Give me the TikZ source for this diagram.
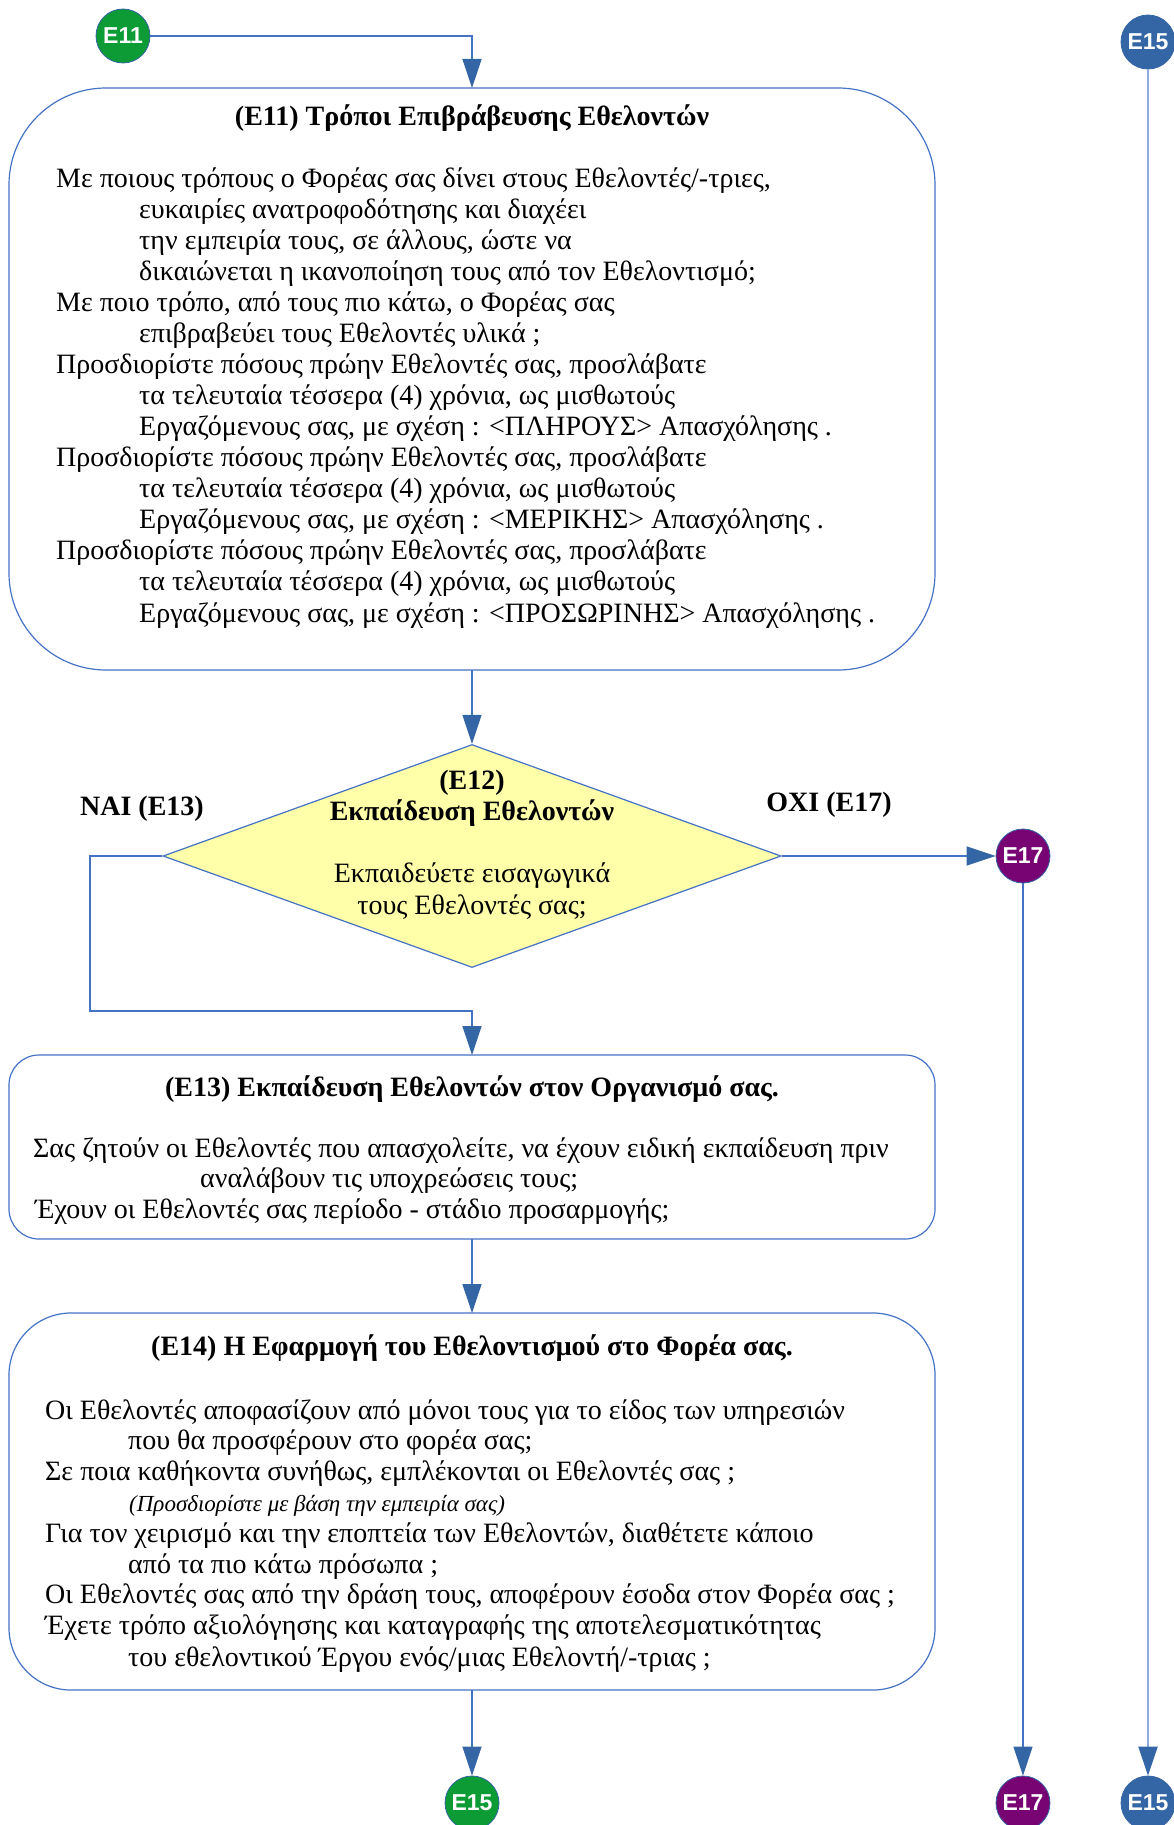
\documentclass[tikz,border=0pt]{standalone}
\usepackage{fontspec}
\setmainfont{Liberation Serif}
\newfontfamily\labelfont{Liberation Sans}
\usetikzlibrary{arrows.meta,shapes.geometric}
\definecolor{linecol}{RGB}{68,114,196}
\definecolor{tipcol}{RGB}{52,101,164}
\definecolor{palecol}{RGB}{143,170,220}
\definecolor{gcol}{RGB}{12,155,52}
\definecolor{pcol}{RGB}{120,3,115}
\definecolor{bcol}{RGB}{52,101,164}
\definecolor{dfill}{RGB}{255,255,170}
\newcommand\bodyfont{\fontsize{28}{31}\selectfont}
\newcommand\tline[4]{\node[txt] (#1) at (#2,#3+9) {#4};}
\tikzset{
  txt/.style={anchor=base west, inner sep=0pt, font=\bodyfont},
  ttl/.style={anchor=base, inner sep=0pt, font=\bodyfont\bfseries},
  conn/.style={draw=linecol, line width=1.3pt},
  arr/.style={conn, -{Triangle[length=29pt,width=19pt,color=tipcol]}},
  circ/.style={circle, minimum size=54pt, inner sep=0pt, draw=tipcol, line width=0.8pt,
    text=white, font=\labelfont\bfseries\fontsize{23}{23}\selectfont},
  boxst/.style={draw=linecol, line width=1.2pt, fill=white},
}
\begin{document}
\begin{tikzpicture}[x=1pt,y=-1pt]
\useasboundingbox (0,0) rectangle (1174,1825);
\clip (0,0) rectangle (1174,1825);
% circles
\node[circ, fill=gcol] (c11) at (123,36) {E11};
\node[circ, fill=bcol] (c15t) at (1148,42) {E15};
\node[circ, fill=pcol] (c17m) at (1023,856) {E17};
\node[circ, fill=gcol] (c15g) at (472,1803) {E15};
\node[circ, fill=pcol] (c17b) at (1023,1803) {E17};
\node[circ, fill=bcol] (c15b) at (1148,1803) {E15};
% boxes
\draw[boxst, rounded corners=97pt] (9,88) rectangle (935,670);
\coordinate (b11t) at (472,88);
\coordinate (b11b) at (472,670);
\node[diamond, draw=linecol, line width=1.2pt, fill=dfill, minimum width=618pt, minimum height=223pt, inner sep=0pt] (d12) at (472,856) {};
\draw[boxst, rounded corners=30pt] (9,1055) rectangle (935,1239);
\coordinate (b13t) at (472,1055);
\coordinate (b13b) at (472,1239);
\draw[boxst, rounded corners=62pt] (9,1313) rectangle (935,1690);
\coordinate (b14t) at (472,1313);
\coordinate (b14b) at (472,1690);
% connectors
\draw[arr] (c11.east) -| (b11t);
\draw[arr] (b11b) -- (d12.north);
\coordinate (lk1) at (90,856);
\coordinate (lk2) at (90,1011);
\coordinate (lk3) at (472,1011);
\draw[arr] (d12.west) -- (lk1) -- (lk2) -- (lk3) -- (b13t);
\draw[arr] (d12.east) -- (c17m.west);
\draw[arr] (c17m.south) -- (c17b.north);
\draw[arr] (b13b) -- (b14t);
\draw[arr] (b14b) -- (c15g.north);
\draw[draw=palecol, line width=2.2pt, -{Triangle[length=29pt,width=19pt,color=tipcol]}] (c15t.south) -- (c15b.north);
% labels
\node[ttl] (nai) at (142,815) {ΝΑΙ (E13)};
\node[ttl] (oxi) at (829,811) {ΟΧΙ (E17)};
% E11 text
\node[ttl] (t11) at (472,125) {(E11) Τρόποι Επιβράβευσης Εθελοντών};
\tline{a1}{56}{178}{Με ποιους τρόπους ο Φορέας σας δίνει στους Εθελοντές/-τριες,}
\tline{a2}{139}{209.07}{ευκαιρίες ανατροφοδότησης και διαχέει}
\tline{a3}{139}{240.14}{την εμπειρία τους, σε άλλους, ώστε να}
\tline{a4}{139}{271.21}{δικαιώνεται η ικανοποίηση τους από τον Εθελοντισμό;}
\tline{a5}{56}{302.28}{Με ποιο τρόπο, από τους πιο κάτω, ο Φορέας σας}
\tline{a6}{139}{333.35}{επιβραβεύει τους Εθελοντές υλικά ;}
\tline{a7}{56}{364.42}{Προσδιορίστε πόσους πρώην Εθελοντές σας, προσλάβατε}
\tline{a8}{139}{395.49}{τα τελευταία τέσσερα (4) χρόνια, ως μισθωτούς}
\tline{a9}{139}{426.56}{Εργαζόμενους σας, με σχέση : <ΠΛΗΡΟΥΣ> Απασχόλησης .}
\tline{a10}{56}{457.63}{Προσδιορίστε πόσους πρώην Εθελοντές σας, προσλάβατε}
\tline{a11}{139}{488.70}{τα τελευταία τέσσερα (4) χρόνια, ως μισθωτούς}
\tline{a12}{139}{519.77}{Εργαζόμενους σας, με σχέση : <ΜΕΡΙΚΗΣ> Απασχόλησης .}
\tline{a13}{56}{550.84}{Προσδιορίστε πόσους πρώην Εθελοντές σας, προσλάβατε}
\tline{a14}{139}{581.91}{τα τελευταία τέσσερα (4) χρόνια, ως μισθωτούς}
\tline{a15}{139}{613}{Εργαζόμενους σας, με σχέση : <ΠΡΟΣΩΡΙΝΗΣ> Απασχόλησης .}
% E12 text
\node[ttl] (t12a) at (472,789) {(E12)};
\node[ttl] (t12b) at (472,820) {Εκπαίδευση Εθελοντών};
\node[anchor=base, inner sep=0pt, font=\bodyfont] (t12c) at (472,882) {Εκπαιδεύετε εισαγωγικά};
\node[anchor=base, inner sep=0pt, font=\bodyfont] (t12d) at (472,914) {τους Εθελοντές σας;};
% E13 text
\node[ttl] (t13) at (472,1096) {(E13) Εκπαίδευση Εθελοντών στον Οργανισμό σας.};
\tline{b1}{33}{1148.5}{Σας ζητούν οι Εθελοντές που απασχολείτε, να έχουν ειδική εκπαίδευση πριν}
\tline{b2}{200}{1178.5}{αναλάβουν τις υποχρεώσεις τους;}
\tline{b3}{35}{1209}{Έχουν οι Εθελοντές σας περίοδο - στάδιο προσαρμογής;}
% E14 text
\node[ttl] (t14) at (472,1355) {(E14) Η Εφαρμογή του Εθελοντισμού στο Φορέα σας.};
\tline{c1}{45}{1410}{Οι Εθελοντές αποφασίζουν από μόνοι τους για το είδος των υπηρεσιών}
\tline{c2}{128}{1440}{που θα προσφέρουν στο φορέα σας;}
\tline{c3}{45}{1471}{Σε ποια καθήκοντα συνήθως, εμπλέκονται οι Εθελοντές σας ;}
\node[anchor=base west, inner sep=0pt, font=\itshape\fontsize{23}{26}\selectfont] (c4) at (129,1511) {(Προσδιορίστε με βάση την εμπειρία σας)};
\tline{c5}{45}{1533}{Για τον χειρισμό και την εποπτεία των Εθελοντών, διαθέτετε κάποιο}
\tline{c6}{128}{1564}{από τα πιο κάτω πρόσωπα ;}
\tline{c7}{45}{1594}{Οι Εθελοντές σας από την δράση τους, αποφέρουν έσοδα στον Φορέα σας ;}
\tline{c8}{45}{1625}{Έχετε τρόπο αξιολόγησης και καταγραφής της αποτελεσματικότητας}
\tline{c9}{128}{1657}{του εθελοντικού Έργου ενός/μιας Εθελοντή/-τριας ;}
\end{tikzpicture}
\end{document}
